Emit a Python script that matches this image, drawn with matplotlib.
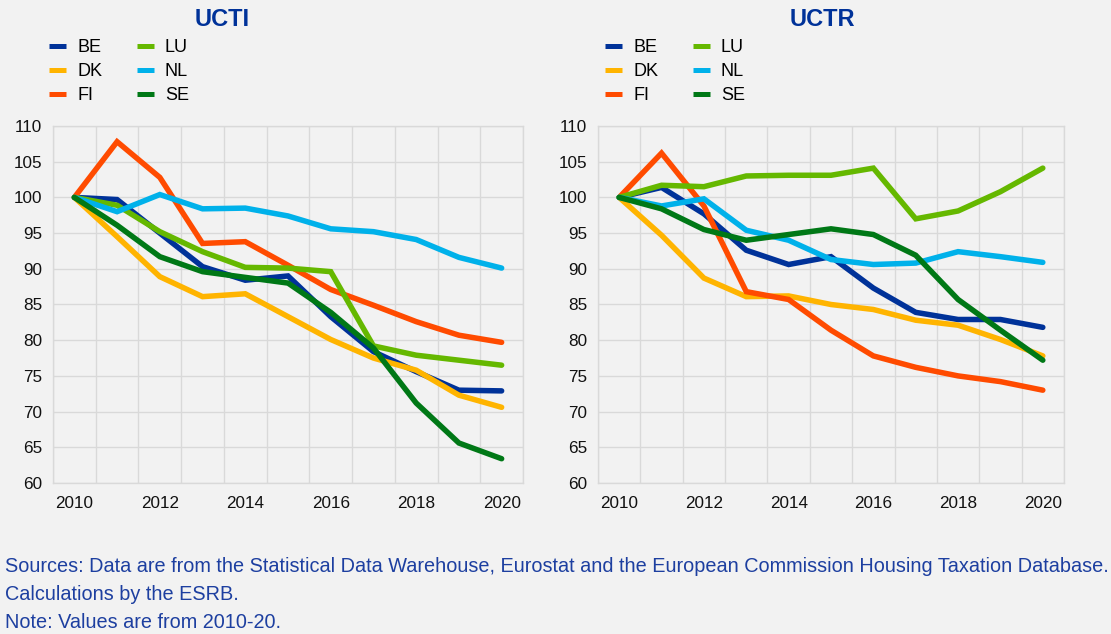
import matplotlib
matplotlib.use('Agg')
import matplotlib.pyplot as plt
from matplotlib.lines import Line2D

plt.rcParams['font.family'] = ['Liberation Sans', 'DejaVu Sans']

YEARS = list(range(2010, 2021))
COUNTRIES = ["BE", "DK", "FI", "LU", "NL", "SE"]

COLORS = {
    "BE": "#003299",
    "DK": "#ffb400",
    "FI": "#ff4b00",
    "LU": "#65b800",
    "NL": "#00b1ea",
    "SE": "#007816",
}

# UCTI (index 2010 = 100)
ucti_be = [100, 99.7, 95.0, 90.3, 88.4, 89.0, 83.3, 78.4, 75.6, 73.0, 72.9]
ucti_dk = [100, 94.5, 88.9, 86.1, 86.5, 83.3, 80.1, 77.5, 75.8, 72.3, 70.6]
ucti_fi = [100, 107.8, 102.8, 93.55, 93.8, 90.5, 87.1, 84.9, 82.6, 80.7, 79.7]
ucti_lu = [100, 98.9, 95.2, 92.4, 90.2, 90.1, 89.6, 79.2, 77.9, 77.2, 76.5]
ucti_nl = [100, 98.0, 100.4, 98.4, 98.5, 97.4, 95.6, 95.2, 94.1, 91.6, 90.1]
ucti_se = [100, 96.1, 91.7, 89.6, 88.8, 88.0, 83.9, 78.9, 71.2, 65.6, 63.4]

# UCTR (index 2010 = 100)
uctr_be = [100, 101.4, 97.7, 92.6, 90.6, 91.7, 87.3, 83.9, 82.9, 82.9, 81.8]
uctr_dk = [100, 94.7, 88.7, 86.1, 86.2, 85.0, 84.3, 82.8, 82.1, 80.1, 77.8]
uctr_fi = [100, 106.2, 98.8, 86.8, 85.7, 81.4, 77.8, 76.2, 75.0, 74.2, 73.0]
uctr_lu = [100, 101.7, 101.5, 103.0, 103.1, 103.1, 104.1, 97.0, 98.1, 100.8, 104.1]
uctr_nl = [100, 98.8, 99.8, 95.4, 94.0, 91.3, 90.6, 90.8, 92.4, 91.7, 90.9]
uctr_se = [100, 98.4, 95.5, 94.0, 94.8, 95.6, 94.8, 91.9, 85.7, 81.4, 77.2]

UCTI = {"BE": ucti_be, "DK": ucti_dk, "FI": ucti_fi,
        "LU": ucti_lu, "NL": ucti_nl, "SE": ucti_se}
UCTR = {"BE": uctr_be, "DK": uctr_dk, "FI": uctr_fi,
        "LU": uctr_lu, "NL": uctr_nl, "SE": uctr_se}

BG = "#f2f2f2"
GRID = "#d9d9d9"
TITLE_BLUE = "#003299"
FOOT_BLUE = "#1d3fa0"

W, H = 1111, 634
fig = plt.figure(figsize=(W / 100, H / 100), dpi=100, facecolor=BG)

PANELS = [
    ("UCTI", UCTI, (53, 126, 523, 483), 222, 49),
    ("UCTR", UCTR, (598, 126, 1064, 483), 822, 605),
]

xs = list(range(len(YEARS)))
lw = 5.5 * 72 / 100

for title, data, (x0, y0, x1, y1), tx, legx in PANELS:
    ax = fig.add_axes([x0 / W, 1 - y1 / H, (x1 - x0) / W, (y1 - y0) / H])
    ax.set_facecolor(BG)
    for c in COUNTRIES:
        ax.plot(xs, data[c], color=COLORS[c], lw=lw,
                solid_capstyle='round', solid_joinstyle='miter')
    ax.set_xlim(-0.5, len(YEARS) - 0.5)
    ax.set_ylim(60, 110)
    ax.set_yticks(range(60, 111, 5))
    ax.set_xticks(xs[::2])
    ax.set_xticklabels([str(y) for y in YEARS[::2]])
    ax.set_xticks([i - 0.5 for i in range(len(YEARS) + 1)], minor=True)
    ax.grid(axis='y', which='major', color=GRID, lw=1)
    ax.grid(axis='x', which='minor', color=GRID, lw=1)
    ax.set_axisbelow(True)
    ax.tick_params(axis='both', which='both', length=0, labelsize=12.3,
                   colors='#111111')
    ax.tick_params(axis='x', pad=9)
    ax.tick_params(axis='y', pad=8)
    for s in ax.spines.values():
        s.set_color(GRID)
        s.set_linewidth(1)

    fig.text(tx / W, 1 - 20 / H, title, ha='center', va='center',
             fontsize=17, fontweight='bold', color=TITLE_BLUE)

    handles = [Line2D([0], [0], color=COLORS[c], lw=5 * 72 / 100,
                      solid_capstyle='butt')
               for c in COUNTRIES]
    fig.legend(handles, COUNTRIES, ncol=2, loc='upper left',
               bbox_to_anchor=(legx / W, 1 - 39.5 / H),
               frameon=False, fontsize=13, handlelength=0.95,
               handletextpad=0.62, columnspacing=1.9, labelspacing=0.37,
               borderpad=0, borderaxespad=0)

foot = ["Sources: Data are from the Statistical Data Warehouse, Eurostat and the "
        "European Commission Housing Taxation Database.",
        "Calculations by the ESRB.",
        "Note: Values are from 2010-20."]
for i, line in enumerate(foot):
    fig.text(5 / W, 1 - (566 + 28 * i) / H, line, ha='left', va='center',
             fontsize=14.3, color=FOOT_BLUE)

fig.savefig("out.png", dpi=100, facecolor=BG)
